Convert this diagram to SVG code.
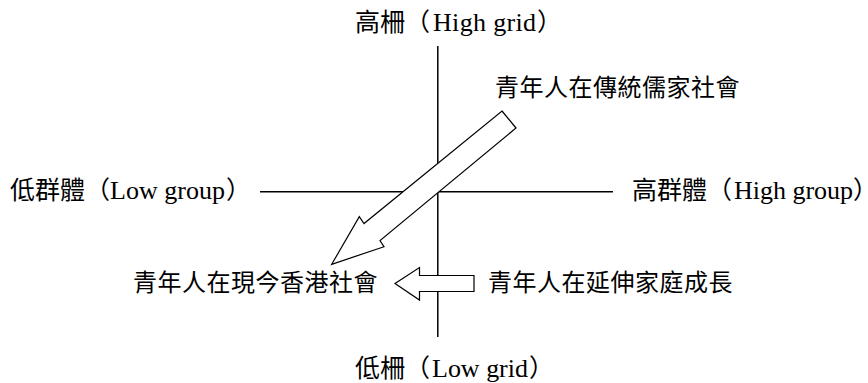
<svg xmlns="http://www.w3.org/2000/svg" width="868" height="383" viewBox="0 0 868 383">
<style>
.t{font-family:"Noto Sans CJK TC","Noto Sans CJK SC",sans-serif;font-size:25px;fill:#000}
.l{font-family:"Liberation Serif","Times New Roman",serif;font-size:26px}
.c{font-family:"Noto Sans CJK TC","Noto Sans CJK SC",sans-serif;font-size:24px;fill:#000;letter-spacing:0.5px}
.ax{stroke:#000;stroke-width:1.5;fill:none}
.ar{fill:#fff;stroke:#000;stroke-width:1.2;stroke-linejoin:miter}
</style>
<rect width="868" height="383" fill="#fff"/>
<g id="axes">
<line class="ax" x1="437.8" y1="46" x2="437.8" y2="337"/>
<line class="ax" x1="260" y1="191.7" x2="613" y2="191.7"/>
</g>
<g id="label-high-grid"><text class="t" y="31"><tspan x="355">高柵</tspan><tspan x="405">（</tspan><tspan class="l" x="433" textLength="103" lengthAdjust="spacing">High grid</tspan><tspan x="537">）</tspan></text></g>
<g id="label-low-grid"><text class="t" y="377"><tspan x="355">低柵</tspan><tspan x="405">（</tspan><tspan class="l" x="432" textLength="96" lengthAdjust="spacing">Low grid</tspan><tspan x="529">）</tspan></text></g>
<g id="label-low-group"><text class="t" y="199"><tspan x="10">低群體</tspan><tspan x="85">（</tspan><tspan class="l" x="110" textLength="115" lengthAdjust="spacing">Low group</tspan><tspan x="226">）</tspan></text></g>
<g id="label-high-group"><text class="t" y="199"><tspan x="632">高群體</tspan><tspan x="707">（</tspan><tspan class="l" x="734" textLength="119" lengthAdjust="spacing">High group</tspan><tspan x="853">）</tspan></text></g>
<g id="node-traditional"><text class="c" x="495" y="96">青年人在傳統儒家社會</text></g>
<g id="node-hongkong"><text class="c" x="133" y="291">青年人在現今香港社會</text></g>
<g id="node-extended"><text class="c" x="488" y="291">青年人在延伸家庭成長</text></g>
<g id="connectors">
<polygon class="ar" points="502,111 516,128 380,240.5 384,246.7 331.7,264.3 359.3,216.7 364,223.5"/>
<polygon class="ar" points="395,283.5 419.5,267.5 419.5,275.5 474,275.5 474,291.5 419.5,291.5 419.5,300"/>
</g>
</svg>
